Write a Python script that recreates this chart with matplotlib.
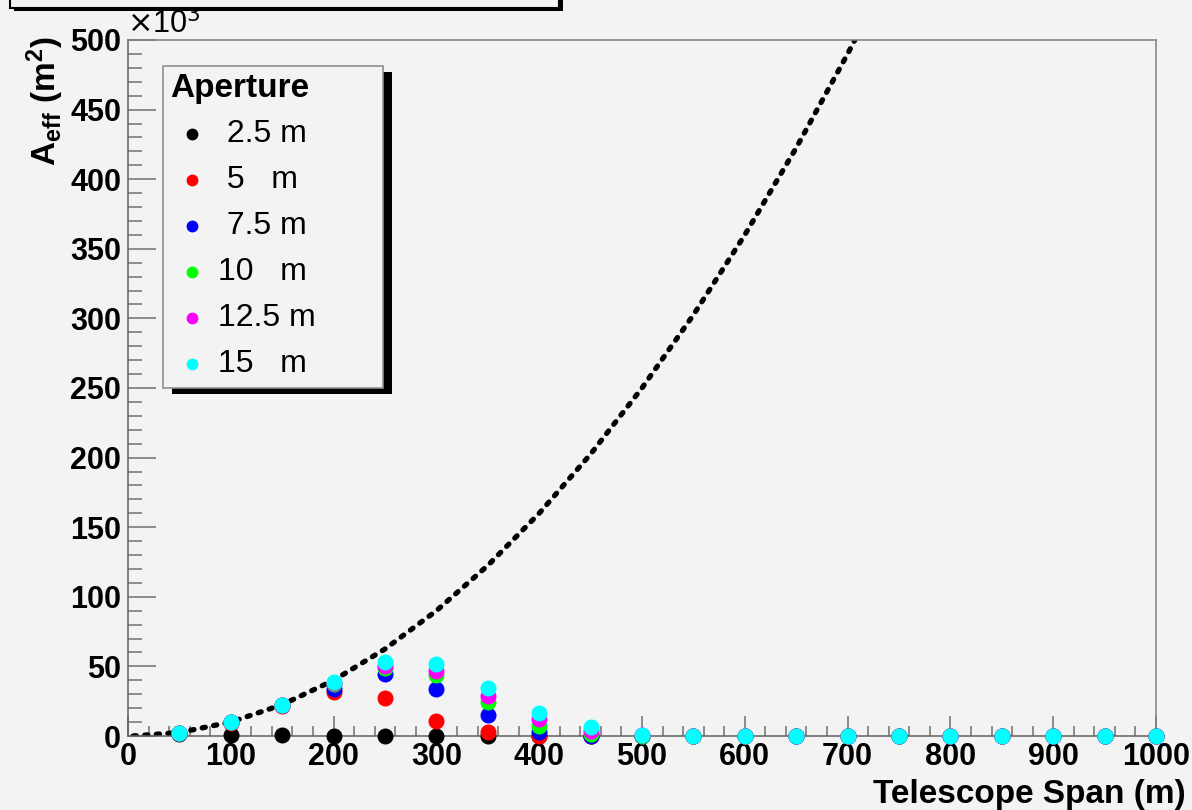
import matplotlib.pyplot as plt
from matplotlib.patches import Rectangle
from matplotlib.ticker import MultipleLocator

plt.rcParams['font.family'] = ['Liberation Sans', 'DejaVu Sans']
plt.rcParams['mathtext.fontset'] = 'custom'
plt.rcParams['mathtext.rm'] = 'Liberation Sans:bold'
plt.rcParams['mathtext.it'] = 'Liberation Sans:bold'
plt.rcParams['mathtext.bf'] = 'Liberation Sans:bold'

# telescope span (m) and effective area (10^3 m^2) for each aperture
span = [50, 100, 150, 200, 250, 300, 350, 400, 450, 500,
        550, 600, 650, 700, 750, 800, 850, 900, 950, 1000]
area_2p5 = [1.5, 0.5, 0.4, 0.3, 0.1, 0.1, 0, 0, 0, 0,
            0, 0, 0, 0, 0, 0, 0, 0, 0, 0]
area_5 = [2.4, 9.5, 21.5, 31.4, 27.0, 10.8, 2.6, 0.2, 0, 0,
          0, 0, 0, 0, 0, 0, 0, 0, 0, 0]
area_7p5 = [2.4, 9.8, 22.3, 33.6, 44.3, 33.6, 14.9, 2.6, 0.3, 0.1,
            0, 0, 0, 0, 0, 0, 0, 0, 0, 0]
area_10 = [2.4, 9.8, 22.4, 37.0, 48.5, 43.6, 24.4, 7.0, 1.5, 0.2,
           0, 0, 0, 0, 0, 0, 0, 0, 0, 0]
area_12p5 = [2.4, 9.8, 22.4, 38.0, 50.5, 46.5, 28.5, 12.0, 3.5, 0.5,
             0, 0, 0, 0, 0, 0, 0, 0, 0, 0]
area_15 = [2.4, 9.8, 22.4, 38.6, 53.0, 52.0, 34.5, 16.3, 6.2, 1.0,
           0.3, 0.2, 0, 0, 0, 0, 0, 0, 0, 0]

apertures = [" 2.5 m", " 5   m", " 7.5 m", "10   m", "12.5 m", "15   m"]
colors = ["#000000", "#ff0000", "#0000ff", "#00ff00", "#ff00ff", "#00ffff"]
series = [area_2p5, area_5, area_7p5, area_10, area_12p5, area_15]

# geometric area of the full span
curve_span = [5, 50, 100, 150, 200, 250, 300, 350, 400, 450, 500,
              550, 600, 650, 700, 714]
curve_area = [0.0, 2.5, 10, 22.5, 40, 62.5, 90, 122.5, 160, 202.5, 250,
              302.5, 360, 422.5, 490, 510]

W, H = 1192, 810
bg = "#f3f3f3"
fig = plt.figure(figsize=(W / 100, H / 100), dpi=100, facecolor=bg)


def fx(x):
    return x / W


def fy(y):
    return 1 - y / H


ax = fig.add_axes([fx(128), fy(736), fx(1156) - fx(128), fy(40) - fy(736)])
ax.set_facecolor(bg)
ax.set_xlim(0, 1000)
ax.set_ylim(0, 500)

for s in ax.spines.values():
    s.set_color("#808080")
    s.set_linewidth(1.1)
ax.spines['left'].set_color("#606060")
ax.spines['bottom'].set_color("#606060")

ax.xaxis.set_major_locator(MultipleLocator(100))
ax.xaxis.set_minor_locator(MultipleLocator(20))
ax.yaxis.set_major_locator(MultipleLocator(50))
ax.yaxis.set_minor_locator(MultipleLocator(10))
ax.tick_params(axis='x', which='major', direction='in', length=14.5, width=1.1,
               color="#707070", pad=4, labelsize=22)
ax.tick_params(axis='x', which='minor', direction='in', length=7.2, width=1.1,
               color="#707070")
ax.tick_params(axis='y', which='major', direction='in', length=20, width=1.1,
               color="#707070", pad=5, labelsize=22)
ax.tick_params(axis='y', which='minor', direction='in', length=10, width=1.1,
               color="#707070")
for lab in ax.get_xticklabels() + ax.get_yticklabels():
    lab.set_fontweight('bold')

ax.plot(curve_span, curve_area, color='black', linewidth=3.8,
        linestyle=(0, (0.6, 1.6)), dash_capstyle='round', zorder=2)

for vals, col in zip(series, colors):
    ax.plot(span, vals, linestyle='none', marker='o', markersize=10.5,
            markerfacecolor=col, markeredgecolor=col, clip_on=False, zorder=5)

# axis titles
fig.text(fx(1186), fy(795), "Telescope Span (m)", ha='right', va='center',
         fontsize=24, fontweight='bold')
fig.text(fx(45), fy(36), r"A$_{\mathbf{eff}}$ (m$^{\mathbf{2}}$)", ha='center',
         va='top', rotation=90, fontsize=24, fontweight='bold')
fig.text(fx(127), fy(24), r"$\times$10$^{3}$", ha='left', va='center',
         fontsize=22, math_fontfamily='dejavusans')

# legend box with drop shadow
lx0, ly0, lx1, ly1 = 163, 66, 383, 388
fig.patches.append(Rectangle((fx(lx0 + 9), fy(ly1 + 6)), fx(lx1 - lx0),
                             fy(ly0) - fy(ly1), transform=fig.transFigure,
                             facecolor='black', edgecolor='none', zorder=10))
fig.patches.append(Rectangle((fx(lx0), fy(ly1)), fx(lx1 - lx0),
                             fy(ly0) - fy(ly1), transform=fig.transFigure,
                             facecolor=bg, edgecolor="#909090", linewidth=1.2,
                             zorder=11))
fig.text(fx(170), fy(89), "Aperture", ha='left', va='center', fontsize=24,
         fontweight='bold', zorder=12)
for i, (lab, col) in enumerate(zip(apertures, colors)):
    yy = 134 + i * 46
    fig.add_artist(plt.Line2D([fx(192)], [fy(yy)], marker='o', markersize=7.5,
                              color=col, linestyle='none', zorder=12))
    fig.text(fx(218), fy(yy), lab, ha='left', va='center', fontsize=23,
             zorder=12)

# title pave at the top edge
fig.patches.append(Rectangle((fx(14), fy(11)), fx(549), fy(-20) - fy(11),
                             transform=fig.transFigure, facecolor='black',
                             edgecolor='none', zorder=10))
fig.patches.append(Rectangle((fx(10), fy(8)), fx(549), fy(-20) - fy(8),
                             transform=fig.transFigure, facecolor=bg,
                             edgecolor='black', linewidth=1.5, zorder=11))

fig.savefig("out.png", dpi=100, facecolor=bg)
